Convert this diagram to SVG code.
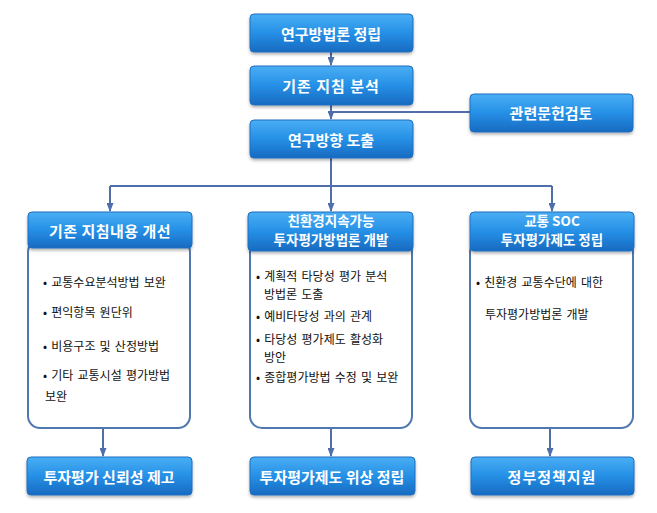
<svg xmlns="http://www.w3.org/2000/svg" width="657" height="513" viewBox="0 0 657 513">
<defs>
<linearGradient id="bg" x1="0" y1="0" x2="0" y2="1">
<stop offset="0" stop-color="#4aaef4"/>
<stop offset="0.5" stop-color="#2590e6"/>
<stop offset="1" stop-color="#176ac0"/>
</linearGradient>
<filter id="sh" x="-10%" y="-20%" width="120%" height="150%">
<feDropShadow dx="0" dy="2" stdDeviation="1.5" flood-color="#000" flood-opacity="0.3"/>
</filter>
<marker id="ar" markerWidth="9" markerHeight="7" refX="8" refY="3.5" orient="auto" markerUnits="userSpaceOnUse">
<path d="M0,0 L9,3.5 L0,7 Z" fill="#4f6eaa"/>
</marker>
<style>
.b{fill:url(#bg);stroke:#1f6fbf;stroke-width:1;filter:url(#sh)}
.bt{fill:#fff;font-family:"Noto Sans CJK KR","Noto Sans",sans-serif;font-weight:bold;font-size:15px;text-anchor:middle;dominant-baseline:central}
.bt2{fill:#fff;font-family:"Noto Sans CJK KR","Noto Sans",sans-serif;font-weight:bold;font-size:13.5px;text-anchor:middle}
.c{fill:#fff;stroke:#4f78b0;stroke-width:2}
.ct{fill:#111;font-family:"Noto Sans CJK KR","Noto Sans",sans-serif;font-size:12px;word-spacing:1.5px}
.ln{fill:none;stroke:#4f6eaa;stroke-width:2}
</style>
</defs>
<g id="connectors">
<path class="ln" d="M331,52 V65" marker-end="url(#ar)"/>
<path class="ln" d="M331,105 V119" marker-end="url(#ar)"/>
<path class="ln" d="M470,112 H331"/>
<path class="ln" d="M331,158 V186"/>
<path class="ln" d="M110,186 H552"/>
<path class="ln" d="M110,186 V211" marker-end="url(#ar)"/>
<path class="ln" d="M331,186 V211" marker-end="url(#ar)"/>
<path class="ln" d="M552,186 V211" marker-end="url(#ar)"/>
<path class="ln" d="M103,428 V456" marker-end="url(#ar)"/>
<path class="ln" d="M331,428 V456" marker-end="url(#ar)"/>
<path class="ln" d="M550,428 V456" marker-end="url(#ar)"/>
</g>
<g id="n1"><rect class="b" x="250" y="14" width="163" height="38" rx="4"/><text class="bt" x="331" y="33">연구방법론 정립</text></g>
<g id="n2"><rect class="b" x="250" y="66" width="163" height="39" rx="4"/><text class="bt" x="331" y="85" letter-spacing="1">기존 지침 분석</text></g>
<g id="n3"><rect class="b" x="470" y="94" width="163" height="38" rx="4"/><text class="bt" x="551" y="112">관련문헌검토</text></g>
<g id="n4"><rect class="b" x="250" y="120" width="163" height="38" rx="4"/><text class="bt" x="331" y="139">연구방향 도출</text></g>

<g id="c1"><rect class="c" x="28" y="240" width="162" height="188" rx="12"/>
<text class="ct" x="43" y="287">• 교통수요분석방법 보완</text>
<text class="ct" x="43" y="317">• 편익항목 원단위</text>
<text class="ct" x="43" y="351">• 비용구조 및 산정방법</text>
<text class="ct" x="43" y="380">• 기타 교통시설 평가방법</text>
<text class="ct" x="45" y="401">보완</text>
</g>
<g id="c2"><rect class="c" x="250" y="240" width="162" height="188" rx="12"/>
<text class="ct" x="256" y="281">• 계획적 타당성 평가 분석</text>
<text class="ct" x="264" y="299">방법론 도출</text>
<text class="ct" x="256" y="321">• 예비타당성 과의 관계</text>
<text class="ct" x="256" y="344">• 타당성 평가제도 활성화</text>
<text class="ct" x="264" y="362">방안</text>
<text class="ct" x="256" y="382">• 종합평가방법 수정 및 보완</text>
</g>
<g id="c3"><rect class="c" x="470" y="240" width="163" height="188" rx="12"/>
<text class="ct" x="476" y="287">• 친환경 교통수단에 대한</text>
<text class="ct" x="485" y="319">투자평가방법론 개발</text>
</g>

<g id="h1"><rect class="b" x="28" y="212" width="164" height="36" rx="4"/><text class="bt" x="110" y="230" letter-spacing="0.5">기존 지침내용 개선</text></g>
<g id="h2"><rect class="b" x="248" y="212" width="165" height="39" rx="4"/><text class="bt2" x="331" y="226">친환경지속가능</text><text class="bt2" x="331" y="245">투자평가방법론 개발</text></g>
<g id="h3"><rect class="b" x="470" y="212" width="164" height="39" rx="4"/><text class="bt2" x="552" y="226">교통 SOC</text><text class="bt2" x="552" y="245">투자평가제도 정립</text></g>

<g id="b1"><rect class="b" x="27" y="457" width="165" height="38" rx="4"/><text class="bt" x="109" y="476">투자평가 신뢰성 제고</text></g>
<g id="b2"><rect class="b" x="250" y="457" width="165" height="38" rx="4"/><text class="bt" x="332" y="476">투자평가제도 위상 정립</text></g>
<g id="b3"><rect class="b" x="471" y="457" width="163" height="38" rx="4"/><text class="bt" x="552" y="476" letter-spacing="1">정부정책지원</text></g>
</svg>
